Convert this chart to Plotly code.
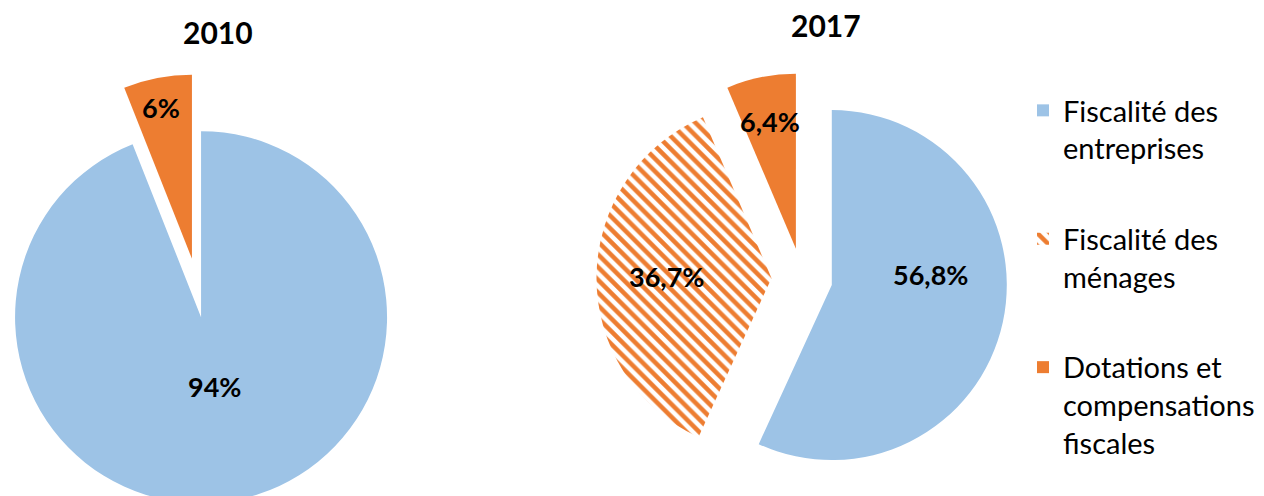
import numpy as np
import plotly.graph_objects as go

W, H = 1264, 496
OFF = 8  # default body margin of the html page

categories = ["Fiscalité des<br>entreprises", "Fiscalité des<br>ménages",
              "Dotations et<br>compensations<br>fiscales"]
years = ["2010", "2017"]
values_2010 = [94, 0, 6]
values_2017 = [56.8, 36.7, 6.4]
labels_2010 = ["94%", "", "6%"]
labels_2017 = ["56,8%", "36,7%", "6,4%"]

colors = ["#9DC3E6", "#ED7D31", "#ED7D31"]
shapes = ["", "\\", ""]
CLEAR = "rgba(0,0,0,0)"
FONT = "Lato"

# label placement: (fraction of radius from slice tip, angle override in deg)
lblpos_2010 = [(0.38, None), None, (0.83, None)]
lblpos_2017 = [(0.57, 84), (0.60, None), (0.74, None)]

# centre (page px), radius, explode distance, title position (page px)
pies = [
    (values_2010, labels_2010, lblpos_2010, (195.5, 288), 186, 29.7, (218, 32)),
    (values_2017, labels_2017, lblpos_2017, (802, 278.6), 175, 30.5, (826, 25)),
]


def px(x, y):
    return (x - OFF) / W, 1 - (y - OFF) / H


fig = go.Figure()

# legend entries only (drawn at a near-zero size)
for i, cat in enumerate(categories):
    fig.add_trace(go.Pie(
        values=[1], labels=[cat], sort=False, textinfo="none", hoverinfo="skip",
        marker=dict(colors=[colors[i]], line=dict(width=0),
                    pattern=dict(shape=[shapes[i]], fgcolor=colors[i], bgcolor="white",
                                 size=9, solidity=0.5)),
        domain=dict(x=[0, 0.0002], y=[0, 0.0002]),
        legendgroup=str(i), showlegend=True,
    ))

# exploded pies: one trace per slice, each shifted along its mid angle
for (vals, txt, lpos, (cx, cy), r, d, (tx, ty)), yr in zip(pies, years):
    vals = np.array(vals, dtype=float)
    cum = np.cumsum(vals) - vals / 2
    mid = np.radians(360 * cum / vals.sum())
    for i, v in enumerate(vals):
        if v <= 0:
            continue
        ax = cx + d * np.sin(mid[i])
        ay = cy - d * np.cos(mid[i])
        x0, y1 = px(ax - r, ay - r)
        x1, y0 = px(ax + r, ay + r)
        fig.add_trace(go.Pie(
            values=vals, labels=categories, sort=False, direction="clockwise", rotation=0,
            marker=dict(colors=[colors[j] if j == i else CLEAR for j in range(len(vals))],
                        line=dict(width=0),
                        pattern=dict(shape=[shapes[j] if j == i else "" for j in range(len(vals))],
                                     fgcolor="#ED7D31", bgcolor="white", size=9, solidity=0.5)),
            textinfo="none", hoverinfo="skip", showlegend=False,
            domain=dict(x=[max(0, x0), min(1, x1)], y=[max(0, y0), min(1, y1)]),
        ))
        frac, ang = lpos[i]
        a = mid[i] if ang is None else np.radians(ang)
        lx, ly = px(ax + frac * r * np.sin(a), ay - frac * r * np.cos(a))
        fig.add_annotation(text=txt[i], x=lx, y=ly, xref="paper", yref="paper",
                           xanchor="center", yanchor="middle", showarrow=False,
                           font=dict(family=FONT, size=27, color="black", weight="bold"))

    ttx, tty = px(tx, ty)
    fig.add_annotation(text=yr, x=ttx, y=tty, xref="paper", yref="paper",
                       xanchor="center", yanchor="middle", showarrow=False,
                       font=dict(family=FONT, size=30, color="black", weight="bold"))

lgx, lgy = px(1023, 85)
fig.update_layout(
    width=W, height=H, margin=dict(l=0, r=0, t=0, b=0),
    paper_bgcolor="white", plot_bgcolor="white",
    legend=dict(x=lgx, y=lgy, xanchor="left", yanchor="top",
                font=dict(family=FONT, size=29, color="black"),
                valign="top", tracegroupgap=50, traceorder="grouped",
                itemclick=False, itemdoubleclick=False),
)

fig.write_html("out.html")
